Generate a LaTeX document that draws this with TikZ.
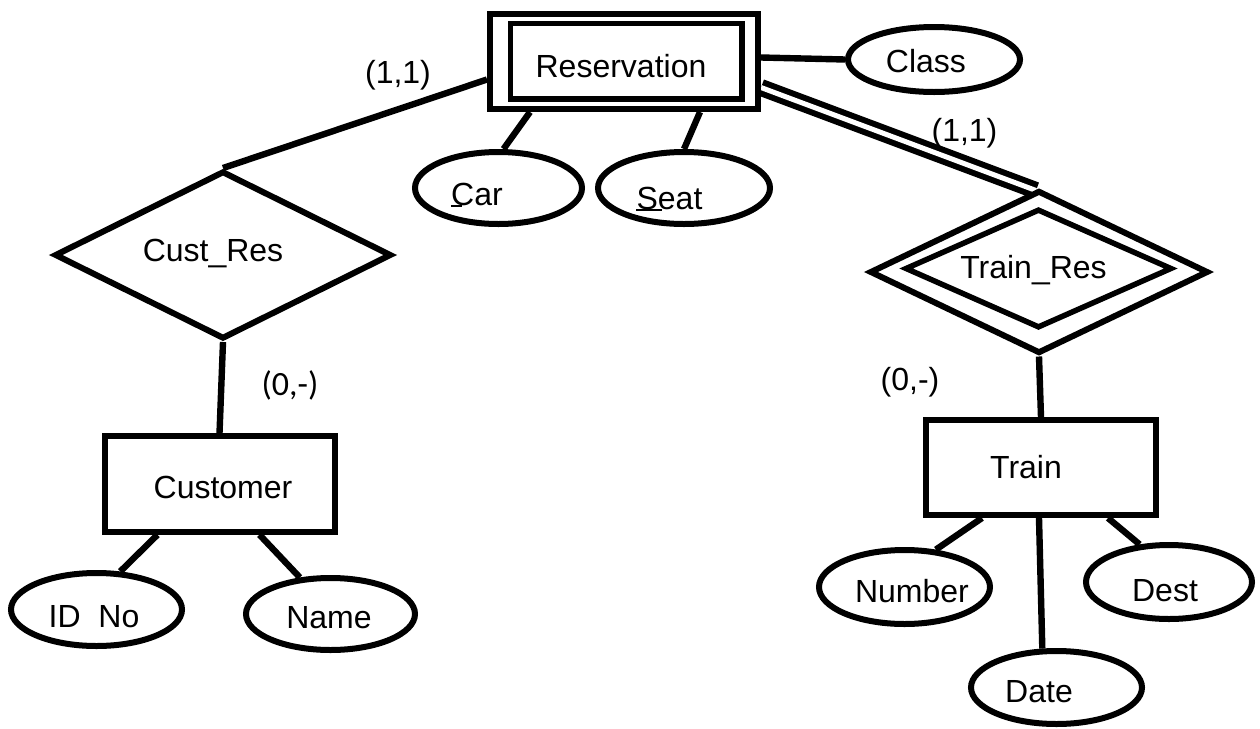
\documentclass[tikz,border=0pt]{standalone}
\usepackage{fontspec}
\setmainfont{Liberation Sans}
\newfontfamily\calibrifont{Carlito}
\usetikzlibrary{shapes.geometric,calc,backgrounds}

\begin{document}
\begin{tikzpicture}[x=0.5pt,y=-0.5pt,
  attr/.style={draw, fill=white, ellipse, line width=3pt, inner sep=0pt},
  ent/.style={draw, fill=white, rectangle, line width=3pt, inner sep=0pt},
  rel/.style={draw, fill=white, diamond, line width=3pt, inner sep=0pt},
  lbl/.style={inner sep=0pt, font=\fontsize{16}{19}\selectfont},
  card/.style={inner sep=0pt, font=\fontsize{16}{19}\selectfont},
  conn/.style={line width=3.2pt},
  dconn/.style={line width=3pt, double, double distance=2.5pt},
  uline/.style={line width=0.6pt},
]
\useasboundingbox (0,0) rectangle (1260,729);

% shapes
\node[ent, minimum width=134pt, minimum height=47.5pt] (resout) at (624,61.5) {};
\node[ent, line width=2.75pt, minimum width=115.75pt, minimum height=37.75pt] (resin) at (626,61) {};
\node[attr, minimum width=86pt, minimum height=32.5pt] (class) at (934,59.5) {};
\node[attr, minimum width=83.5pt, minimum height=36pt] (car) at (498.5,188) {};
\node[attr, minimum width=86pt, minimum height=36pt] (seat) at (684,188) {};
\node[rel, minimum width=168.5pt, minimum height=84pt] (custres) at (223,255) {};
\node[rel, minimum width=169.3pt, minimum height=81.5pt] (tro) at (1039,272) {};
\node[rel, line width=2.75pt, minimum width=133.5pt, minimum height=59.5pt] (tri) at (1038.5,268.5) {};
\node[ent, minimum width=115pt, minimum height=47.75pt] (customer) at (219.5,484) {};
\node[ent, minimum width=115pt, minimum height=47.5pt] (train) at (1041,467.5) {};
\node[attr, minimum width=85.5pt, minimum height=36.5pt] (idno) at (96.5,609.5) {};
\node[attr, minimum width=84.5pt, minimum height=36pt] (name) at (330.5,614) {};
\node[attr, minimum width=85.5pt, minimum height=37pt] (number) at (904.5,587) {};
\node[attr, minimum width=83pt, minimum height=37pt] (dest) at (1169,582) {};
\node[attr, minimum width=85.5pt, minimum height=36.5pt] (date) at (1056.5,687.5) {};

% texts
\node[lbl, anchor=base] (tRes) at (621,77) {Reservation};
\node[lbl, anchor=base] (tClass) at (926,72) {Class};
\node[lbl, anchor=base] (tCar) at (477,205) {Car};
\node[lbl, anchor=base] (tSeat) at (669.5,209) {Seat};
\node[lbl, anchor=base] (tCustRes) at (213,261) {Cust\_Res};
\node[lbl, anchor=base] (tTrainRes) at (1033.5,278) {Train\_Res};
\node[lbl, anchor=base] (tCustomer) at (223,498) {Customer};
\node[lbl, anchor=base] (tTrain) at (1026,478) {Train};
\node[lbl, anchor=base] (tIdNo) at (94,627) {ID\ \ No};
\node[lbl, anchor=base] (tName) at (329,628) {Name};
\node[lbl, anchor=base] (tNumber) at (912,602) {Number};
\node[lbl, anchor=base] (tDest) at (1165,601) {Dest};
\node[lbl, anchor=base] (tDate) at (1039,702) {Date};

\draw[uline] ($(tCar.base west)+(0,1)$) -- ++(11,0);
\draw[uline] ($(tSeat.base west)+(0,1)$) -- ++(26,0);

% cardinalities
\node[card] (c1) at (398,75) {(1,1)};
\node[card] (c2) at (964.5,133.5) {(1,1)};
\node[card, font=\calibrifont\fontsize{17}{20}\selectfont] (c3) at (290,385) {(0,-)};
\node[card] (c4) at (910,382) {(0,-)};

% connectors
\begin{pgfonlayer}{background}
\draw[conn] ($(resout.west)+(0,18)$) -- (custres.north);
\draw[conn] ($(resout.south)+(-94,0)$) -- ($(car.north)+(5,0)$);
\draw[conn] ($(resout.south)+(76,0)$) -- (seat.north);
\draw[conn] ($(resout.east)+(0,-4)$) -- (class.west);
\draw[dconn] ($(resout.east)+(0,26)$) -- ($(tro.north)+(-3,3)$);
\draw[conn] (custres.south) -- (customer.north);
\draw[conn] (tro.south) -- (train.north);
\draw[conn] ($(customer.south)+(-62,0)$) -- (idno.58);
\draw[conn] ($(customer.south)+(40,0)$) -- (name.130);
\draw[conn] ($(train.south)+(-59,0)$) -- (number.50);
\draw[conn] ($(train.south)+(-2,0)$) -- (date.110);
\draw[conn] ($(train.south)+(67,0)$) -- (dest.128);
\end{pgfonlayer}
\end{tikzpicture}
\end{document}
